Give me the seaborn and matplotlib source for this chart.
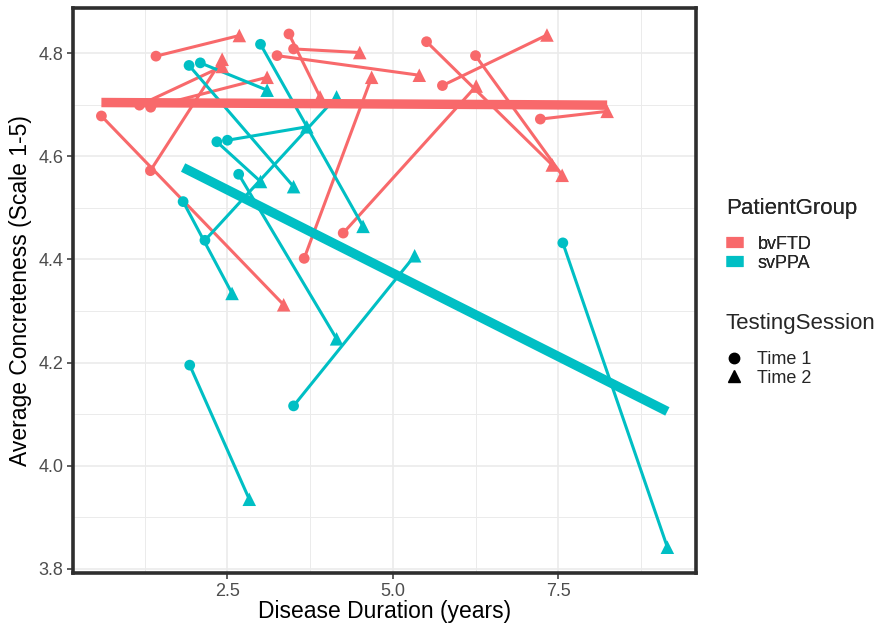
import numpy as np
import pandas as pd
import matplotlib
matplotlib.use("Agg")
import matplotlib.pyplot as plt
from matplotlib.lines import Line2D
from matplotlib.ticker import MultipleLocator
import seaborn as sns

# one entry per patient: Time 1 -> Time 2
groups = ["bvFTD"] * 14 + ["svPPA"] * 11
dur_t1 = [1.42, 0.595, 1.336, 1.17, 1.34, 3.43, 3.50, 3.25, 3.66, 4.25, 5.51, 6.25, 5.75, 7.23,
          3.00, 2.16, 2.09, 1.92, 2.34, 2.50, 2.67, 1.83, 1.93, 3.50, 7.57]
conc_t1 = [4.794, 4.678, 4.572, 4.699, 4.695, 4.837, 4.808, 4.795, 4.402, 4.451, 4.822, 4.795, 4.737, 4.672,
           4.817, 4.437, 4.781, 4.776, 4.628, 4.631, 4.565, 4.512, 4.195, 4.116, 4.432]
dur_t2 = [2.68, 3.35, 2.42, 2.42, 3.10, 3.90, 4.50, 5.40, 4.68, 6.26, 7.41, 7.56, 7.33, 8.24,
          4.55, 4.15, 3.10, 3.50, 3.00, 3.70, 4.15, 2.57, 2.83, 5.33, 9.15]
conc_t2 = [4.834, 4.312, 4.788, 4.774, 4.753, 4.715, 4.801, 4.757, 4.753, 4.736, 4.583, 4.563, 4.835, 4.687,
           4.464, 4.715, 4.728, 4.541, 4.551, 4.657, 4.246, 4.334, 3.935, 4.407, 3.842]

palette = {"bvFTD": "#F8696B", "svPPA": "#00BFC4"}

n = len(groups)
df = pd.DataFrame({
    "pid": list(range(n)) * 2,
    "PatientGroup": groups * 2,
    "TestingSession": ["Time 1"] * n + ["Time 2"] * n,
    "Duration": dur_t1 + dur_t2,
    "Concreteness": conc_t1 + conc_t2,
})

sns.set_theme(style="white")
plt.rcParams['font.family'] = ['Liberation Sans', 'DejaVu Sans']

fig = plt.figure(figsize=(8.83, 6.29), dpi=100)
ax = fig.add_axes([0.083, 0.089, 0.705, 0.898])

# patient trajectories
sns.lineplot(data=df, x="Duration", y="Concreteness", hue="PatientGroup", units="pid",
             estimator=None, sort=False, palette=palette, lw=2.2, legend=False, ax=ax, zorder=2)
# points
sns.scatterplot(data=df, x="Duration", y="Concreteness", hue="PatientGroup", style="TestingSession",
                markers={"Time 1": "o", "Time 2": "^"}, size="TestingSession",
                sizes={"Time 1": 60, "Time 2": 95}, palette=palette, linewidth=0,
                legend=False, ax=ax, zorder=3)
# group linear fits
for g in ["bvFTD", "svPPA"]:
    sub = df[df["PatientGroup"] == g]
    sns.regplot(data=sub, x="Duration", y="Concreteness", scatter=False, ci=None,
                color=palette[g], truncate=True,
                line_kws=dict(lw=6.8, solid_capstyle="butt", zorder=4), ax=ax)

ax.set_xlim(0.17, 9.58)
ax.set_ylim(3.792, 4.887)
ax.xaxis.set_minor_locator(MultipleLocator(1.25))
ax.yaxis.set_minor_locator(MultipleLocator(0.1))
ax.set_xticks([2.5, 5.0, 7.5])
ax.set_xticklabels(["2.5", "5.0", "7.5"])
ax.set_yticks([3.8, 4.0, 4.2, 4.4, 4.6, 4.8])
ax.set_yticklabels(["3.8", "4.0", "4.2", "4.4", "4.6", "4.8"])
ax.grid(which="major", color="#EBEBEB", lw=1.2, zorder=0)
ax.grid(which="minor", color="#EBEBEB", lw=0.7, zorder=0)
ax.set_axisbelow(True)
ax.tick_params(which="major", length=4, width=1.1, color="#333333",
               labelsize=13, labelcolor="#4D4D4D", pad=3, bottom=True, left=True)
ax.tick_params(which="minor", length=0)
for sp in ax.spines.values():
    sp.set_linewidth(2.6)
    sp.set_color("#2E2E2E")

ax.set_xlabel("Disease Duration (years)", fontsize=16.5, color="black", labelpad=0)
ax.set_ylabel("Average Concreteness (Scale 1-5)", fontsize=16.5, color="black", labelpad=5)

# legends
group_handles = [Line2D([0], [0], color=palette[g], lw=8, solid_capstyle="butt") for g in palette]
leg1 = fig.legend(group_handles, list(palette), title="PatientGroup", loc="upper left",
                  bbox_to_anchor=(0.822, 0.685), frameon=False, fontsize=13, title_fontsize=16,
                  handlelength=0.95, handletextpad=0.8, labelspacing=0.1, alignment="left",
                  borderpad=0, borderaxespad=0)
leg1._legend_box.sep = 12
sess_handles = [Line2D([0], [0], marker="o", color="black", ls="", markersize=7.5),
                Line2D([0], [0], marker="^", color="black", ls="", markersize=9)]
leg2 = fig.legend(sess_handles, ["Time 1", "Time 2"], title="TestingSession", loc="upper left",
                  bbox_to_anchor=(0.822, 0.502), frameon=False, fontsize=13, title_fontsize=16,
                  handlelength=0.95, handletextpad=0.8, labelspacing=0.1, alignment="left",
                  borderpad=0, borderaxespad=0)
leg2._legend_box.sep = 12
fig.add_artist(leg1)

fig.savefig("out.png", dpi=100)
